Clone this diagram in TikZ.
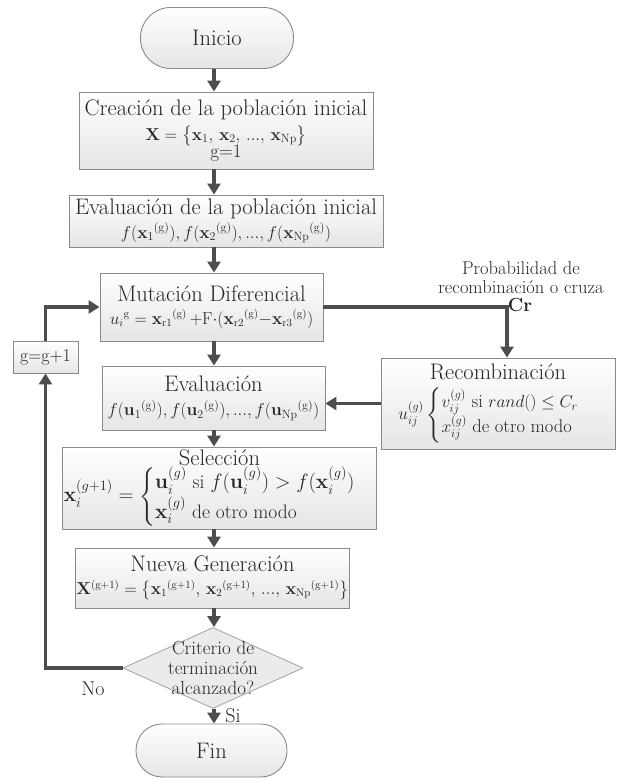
\documentclass[tikz,border=0pt]{standalone}
\usepackage{amsmath}
\usepackage{amssymb}
\usepackage{tikz}
\usetikzlibrary{positioning}
\usetikzlibrary{shapes.geometric}
\usetikzlibrary{arrows.meta}

\definecolor{linegray}{HTML}{4D4D4D}
\definecolor{boxedge}{HTML}{8A8A8A}
\definecolor{txtgray}{HTML}{262626}

\newcommand{\titlefont}{\fontsize{22.5}{25}\selectfont}
\newcommand{\formfont}{\fontsize{17}{20}\selectfont}

\tikzset{
  procbox/.style={draw=boxedge, line width=0.9pt, top color=white, bottom color=black!10,
    text=txtgray, align=center, inner sep=1pt},
  termbox/.style={procbox, rounded corners=26pt},
  decbox/.style={diamond, draw=boxedge!80, line width=0.8pt, fill=black!8, inner sep=0pt},
  flow/.style={draw=linegray, line width=3.5pt, -{Triangle[length=11pt,width=13pt]}},
  txt/.style={text=txtgray, align=center, inner sep=0pt}
}

\begin{document}
\begin{tikzpicture}[x=1pt,y=-1pt]

% Frame (pixel grid of the reference)
\useasboundingbox (0,0) rectangle (616,778);

% Main column
\coordinate (axis) at (214,0);

\node[termbox, minimum width=153pt, minimum height=61pt, rounded corners=30pt] (inicio) at (217,38) {\titlefont Inicio};

\node[procbox, minimum width=294pt, minimum height=77pt] (creacion) at (226,130.5)
  {\titlefont Creación de la población inicial\\[5pt]
   \formfont $\mathbf{X}=\bigl\{\mathbf{x}_1,\,\mathbf{x}_2,\,...,\,\mathbf{x}_{\mathrm{Np}}\bigr\}$\\[-2pt]
   \fontsize{19}{21}\selectfont g=1};

\node[procbox, minimum width=314pt, minimum height=52pt] (evalini) at (226,221)
  {\titlefont Evaluación de la población inicial\\[3pt]
   \formfont $f(\mathbf{x}_1{}^{(\mathrm{g})}),f(\mathbf{x}_2{}^{(\mathrm{g})}),...,f(\mathbf{x}_{\mathrm{Np}}{}^{(\mathrm{g})})$};

\node[procbox, minimum width=223pt, minimum height=68pt] (mutacion) at (211.5,307)
  {\titlefont Mutación Diferencial\\[7pt]
   \fontsize{16}{19}\selectfont $u_i{}^{\mathrm{g}}=\mathbf{x}_{\mathrm{r}1}{}^{(\mathrm{g})}\,{+}\mathrm{F}{\cdot}(\mathbf{x}_{\mathrm{r}2}{}^{(\mathrm{g})}{-}\mathbf{x}_{\mathrm{r}3}{}^{(\mathrm{g})})$};

\node[procbox, minimum width=223pt, minimum height=64pt] (evaluacion) at (213.5,398)
  {\titlefont Evaluación\\[8pt]
   \formfont $f(\mathbf{u}_1{}^{(\mathrm{g})}),f(\mathbf{u}_2{}^{(\mathrm{g})}),...,f(\mathbf{u}_{\mathrm{Np}}{}^{(\mathrm{g})})$};

\node[procbox, minimum width=305pt, minimum height=82pt] (seleccion) at (219.5,488)
  {\titlefont Selección\\[0pt]
   \fontsize{19.5}{22}\selectfont $\mathbf{x}_i^{(g+1)}=\begin{cases}\mathbf{u}_i^{(g)}\text{ si }f(\mathbf{u}_i^{(g)})>f(\mathbf{x}_i^{(g)})\\
   \mathbf{x}_i^{(g)}\text{ de otro modo}\end{cases}$};

\node[procbox, minimum width=271pt, minimum height=60pt] (nueva) at (212.5,578)
  {\titlefont Nueva Generación\\[7pt]
   \fontsize{16}{19}\selectfont $\mathbf{X}^{(\mathrm{g}+1)}=\bigl\{\mathbf{x}_1{}^{(\mathrm{g}+1)},\,\mathbf{x}_2{}^{(\mathrm{g}+1)},\,...,\,\mathbf{x}_{\mathrm{Np}}{}^{(\mathrm{g}+1)}\bigr\}$};

\node[decbox, minimum width=180pt, minimum height=81pt] (crit) at (213,668) {};
\node[txt, font=\fontsize{19}{20}\selectfont] (crittext) at (crit) {Criterio de\\terminación\\alcanzado?};

\node[termbox, minimum width=151pt, minimum height=53pt] (fin) at (211.5,750.5) {\titlefont Fin};

% Side boxes
\node[procbox, minimum width=234pt, minimum height=91pt] (recomb) at (498,403.5)
  {\titlefont Recombinación\\[6pt]
   \fontsize{18.5}{21}\selectfont $u_{ij}^{(g)}\begin{cases}v_{ij}^{(g)}\text{ si }rand()\le C_r\\
   x_{ij}^{(g)}\text{ de otro modo}\end{cases}$};

\node[procbox, minimum width=65pt, minimum height=32pt] (gg) at (45.5,357) {\fontsize{18}{20}\selectfont g=g+1};

% Labels
\node[txt, font=\fontsize{18.5}{19}\selectfont] (prob) at (521,278) {Probabilidad de\\recombinación o cruza};
\node[txt, font=\fontsize{19}{20}\selectfont\bfseries] (cr) at (520,305) {Cr};
\node[txt, font=\fontsize{20}{22}\selectfont] (no) at (93,689) {No};
\node[txt, font=\fontsize{20}{22}\selectfont] (si) at (233,716) {Si};

% Connectors
\coordinate (crx) at (507,0);
\draw[flow] (inicio.south -| axis) -- (creacion.north -| axis);
\draw[flow] (creacion.south -| axis) -- (evalini.north -| axis);
\draw[flow] (evalini.south -| axis) -- (mutacion.north -| axis);
\draw[flow] (mutacion.south -| axis) -- (evaluacion.north -| axis);
\draw[flow] (evaluacion.south -| axis) -- (seleccion.north -| axis);
\draw[flow] (seleccion.south -| axis) -- (nueva.north -| axis);
\draw[flow] (nueva.south -| axis) -- (crit.north -| axis);
\draw[flow] (crit.south -| axis) -- (fin.north -| axis);

\draw[flow] (mutacion.east) -| (recomb.north -| crx);
\draw[flow] (recomb.west) -- (evaluacion.east |- recomb.west);

\draw[flow] (crit.west) -| (gg.south);
\draw[flow] (gg.north) |- (mutacion.west);

\end{tikzpicture}
\end{document}
